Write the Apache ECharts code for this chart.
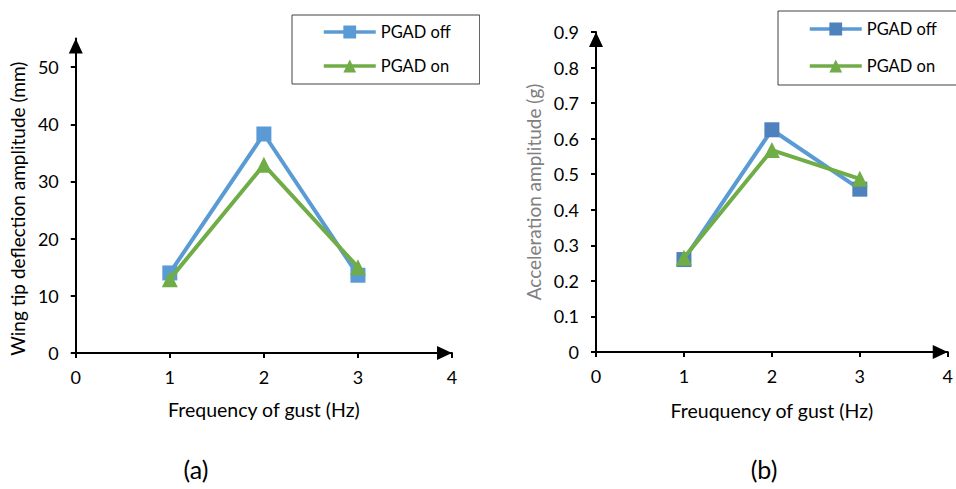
<!DOCTYPE html>
<html>
<head>
<meta charset="utf-8">
<script src="https://cdn.jsdelivr.net/npm/echarts@6/dist/echarts.min.js"></script>
<style>
html,body{margin:0;padding:0;background:#fff;}
#a{position:absolute;left:0;top:0;width:480px;height:489px;}
#b{position:absolute;left:480px;top:0;width:476px;height:489px;}
</style>
</head>
<body>
<div id="a"></div>
<div id="b"></div>
<script>
// Data
const freqs = [1, 2, 3];
const deflOff = [14.0, 38.3, 13.6];
const deflOn = [12.9, 32.9, 15.0];
const accOff = [0.26, 0.625, 0.458];
const accOn = [0.265, 0.568, 0.487];
const seriesNames = ['PGAD off', 'PGAD on'];
const xTitleA = 'Frequency of gust (Hz)';
const xTitleB = 'Freuquency of gust (Hz)';
const yTitleA = 'Wing tip deflection amplitude (mm)';
const yTitleB = 'Acceleration amplitude (g)';
const panelLabels = ['(a)', '(b)'];

const FONT = 'Lato';
const pts = (ys) => freqs.map((x, i) => [x, ys[i]]);

function axisLineStyle(){
  return {show:true, lineStyle:{color:'#000', width:2}, symbol:['none','triangle'], symbolSize:[14,15], symbolOffset:[0,-7.5]};
}

function makeOption(cfg){
  return {
    animation:false,
    textStyle:{fontFamily:FONT},
    title:{text:cfg.panel, left:cfg.panelX, top:cfg.panelY, textAlign:'center', padding:0,
      textStyle:{fontFamily:FONT, fontSize:25, lineHeight:28, fontWeight:'normal', color:'#000'}},
    legend:{
      orient:'vertical', left:cfg.legLeft, top:cfg.legTop,
      data:seriesNames,
      borderColor:'#404040', borderWidth:1,
      padding:cfg.legPad, itemGap:cfg.legGap,
      itemWidth:52, itemHeight:16,
      lineStyle:{width:3.5},
      textStyle:{fontFamily:FONT, fontSize:16.5, color:'#000'}
    },
    grid:{left:cfg.gl, top:cfg.gt, width:cfg.gw, height:cfg.gh},
    xAxis:{
      type:'value', min:0, max:4, interval:1,
      name:cfg.xTitle, nameLocation:'middle', nameGap:cfg.xGap,
      nameTextStyle:{fontFamily:FONT, fontSize:19.5, color:'#000'},
      axisLine:axisLineStyle(),
      axisTick:{show:true, length:5, lineStyle:{color:'#000', width:2}},
      axisLabel:{fontFamily:FONT, fontSize:18, color:'#000', margin:15, showMaxLabel:true},
      splitLine:{show:false}
    },
    yAxis:{
      type:'value', min:0, max:cfg.ymax, interval:cfg.yint,
      name:cfg.yTitle, nameLocation:'middle', nameGap:cfg.yGap,
      nameTextStyle:{fontFamily:FONT, fontSize:19, color:cfg.yTitleColor, padding:cfg.yPad},
      axisLine:axisLineStyle(),
      axisTick:{show:true, length:5, lineStyle:{color:'#000', width:2}},
      axisLabel:{fontFamily:FONT, fontSize:18, color:'#000', margin:17, showMaxLabel:cfg.showMax,
        formatter:cfg.yFmt},
      splitLine:{show:false}
    },
    series:[
      {name:seriesNames[0], type:'line', data:pts(cfg.off), symbol:'rect', symbolSize:15,
        lineStyle:{color:'#5B9BD5', width:4}, itemStyle:{color:cfg.offMarker}, z:2},
      {name:seriesNames[1], type:'line', data:pts(cfg.on), symbol:'triangle', symbolSize:16,
        lineStyle:{color:'#70AD47', width:4}, itemStyle:{color:'#70AD47'}, z:3}
    ]
  };
}

const cA = echarts.init(document.getElementById('a'), null, {renderer:'svg'});
cA.setOption(makeOption({
  panel:panelLabels[0], panelX:196, panelY:455,
  legLeft:292, legTop:15, legPad:[8.5,29,9.5,30], legGap:17,
  gl:75, gt:38.5, gw:377, gh:314.5,
  xTitle:xTitleA, xGap:46,
  ymax:55, yint:10, yTitle:yTitleA, yGap:45, yTitleColor:'#000', yPad:[0,26,0,0], showMax:false,
  yFmt:(v)=>String(v),
  off:deflOff, on:deflOn, offMarker:'#5B9BD5'
}));

const cB = echarts.init(document.getElementById('b'), null, {renderer:'svg'});
cB.setOption(makeOption({
  panel:panelLabels[1], panelX:284, panelY:455,
  legLeft:298, legTop:11, legPad:[9.5,60,10.5,30], legGap:20,
  gl:116, gt:32, gw:356, gh:320,
  xTitle:xTitleB, xGap:48,
  ymax:0.9, yint:0.1, yTitle:yTitleB, yGap:51, yTitleColor:'#808080', yPad:[0,0,0,0], showMax:true,
  yFmt:(v)=> v===0 ? '0' : v.toFixed(1),
  off:accOff, on:accOn, offMarker:'#4F81BD'
}));
</script>
</body>
</html>
